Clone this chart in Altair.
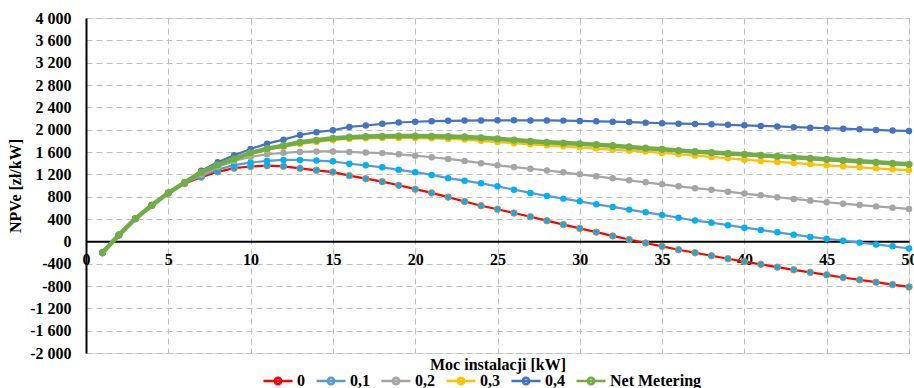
import altair as alt
import pandas as pd

# Installed power [kW]
power_kw = list(range(1, 51))

series_names = ["0", "0,1", "0,2", "0,3", "0,4", "Net Metering"]

# NPVe [zł/kW] for each series
npv_0 = [-205, 115, 405, 645, 865, 1035, 1150, 1245, 1310, 1340,
         1355, 1343, 1307, 1272, 1240, 1177, 1122, 1069, 1004, 935,
         867, 792, 714, 638, 575, 507, 440, 370, 300, 232,
         165, 97, 32, -30, -90, -150, -205, -258, -312, -362,
         -412, -462, -510, -556, -600, -648, -690, -732, -775, -817]
npv_01 = [-205, 115, 405, 645, 865, 1045, 1165, 1285, 1365, 1410,
          1440, 1458, 1458, 1447, 1433, 1390, 1361, 1326, 1281, 1238,
          1189, 1132, 1087, 1039, 985, 925, 867, 813, 765, 716,
          663, 616, 568, 519, 473, 422, 372, 335, 290, 245,
          204, 161, 120, 79, 45, 12, -23, -56, -90, -128]
npv_02 = [-205, 115, 405, 645, 865, 1050, 1190, 1330, 1440, 1510,
          1560, 1585, 1601, 1610, 1610, 1601, 1589, 1580, 1558, 1535,
          1506, 1476, 1440, 1400, 1362, 1330, 1300, 1270, 1236, 1200,
          1164, 1128, 1093, 1057, 1021, 985, 952, 924, 890, 856,
          824, 790, 759, 729, 700, 675, 650, 626, 603, 580]
npv_03 = [-205, 115, 405, 645, 865, 1055, 1225, 1360, 1465, 1560,
          1640, 1695, 1745, 1780, 1815, 1833, 1845, 1850, 1852, 1850,
          1845, 1835, 1822, 1800, 1778, 1757, 1737, 1719, 1701, 1684,
          1662, 1642, 1624, 1607, 1583, 1560, 1535, 1512, 1487, 1463,
          1440, 1422, 1404, 1384, 1362, 1343, 1325, 1307, 1289, 1272]
npv_04 = [-205, 115, 405, 645, 865, 1060, 1266, 1415, 1540, 1655,
          1750, 1821, 1905, 1955, 1990, 2049, 2075, 2105, 2128, 2142,
          2152, 2158, 2163, 2166, 2167, 2167, 2166, 2165, 2162, 2156,
          2150, 2143, 2136, 2126, 2115, 2108, 2102, 2097, 2087, 2078,
          2067, 2058, 2045, 2036, 2025, 2017, 2006, 1995, 1984, 1977]
npv_nm = [-205, 115, 405, 645, 865, 1057, 1236, 1370, 1475, 1583,
          1660, 1714, 1773, 1809, 1845, 1866, 1877, 1882, 1886, 1886,
          1882, 1876, 1869, 1855, 1837, 1815, 1791, 1773, 1760, 1748,
          1732, 1714, 1690, 1668, 1648, 1625, 1606, 1590, 1574, 1558,
          1540, 1522, 1504, 1487, 1469, 1451, 1433, 1415, 1397, 1379]

series_values = [npv_0, npv_01, npv_02, npv_03, npv_04, npv_nm]

line_colors = ["#FF0000", "#5B9BD5", "#A5A5A5", "#FFC000", "#4472C4", "#70AD47"]
marker_fill = ["#00B0F0", "#00B0F0", "#A5A5A5", "#FFC000", "#4472C4", "#70AD47"]
marker_stroke = ["#ED7D31", "#00B0F0", "#A5A5A5", "#FFC000", "#4472C4", "#70AD47"]
line_widths = [2.2, 2.2, 2.2, 2.2, 2.2, 4.5]
marker_sizes = [42, 42, 42, 42, 42, 52]

y_ticks = list(range(-2000, 4001, 400))
x_ticks = list(range(0, 51, 5))

rows = []
for name, vals in zip(series_names, series_values):
    for p, v in zip(power_kw, vals):
        rows.append({"series": name, "power": p, "npv": v})
df = pd.DataFrame(rows)

FONT = "Liberation Serif"
PLOT_W, PLOT_H = 823, 335
Y_MIN, Y_MAX = -2000, 4000
zero_offset = PLOT_H * (0 - Y_MIN) / (Y_MAX - Y_MIN)

# x axis sits on the zero line; its title goes down below the plot
x_enc = alt.X(
    "power:Q",
    scale=alt.Scale(domain=[0, 50], nice=False),
    axis=alt.Axis(
        values=x_ticks, offset=-zero_offset, ticks=False,
        labelFlush=False, labelPadding=10, labelFont=FONT, labelFontSize=16,
        labelFontWeight="bold", labelColor="black",
        domainColor="black", domainWidth=2,
        grid=True, gridColor="#BFBFBF", gridDash=[6, 4], gridWidth=1,
        title="Moc instalacji  [kW]", titleFont=FONT, titleFontSize=16,
        titleFontWeight="bold", titleColor="black",
        titleX=PLOT_W / 2, titleY=zero_offset + 16, titleBaseline="alphabetic",
        titleAlign="center", titleAngle=0,
    ),
)
y_enc = alt.Y(
    "npv:Q",
    scale=alt.Scale(domain=[Y_MIN, Y_MAX], nice=False),
    axis=alt.Axis(
        values=y_ticks, ticks=False, labelPadding=15, labelOverlap=False,
        labelExpr="(datum.value < 0 ? '-' : '') + replace(format(abs(datum.value), ','), ',', ' ')",
        labelFont=FONT, labelFontSize=16, labelFontWeight="bold", labelColor="black",
        domainColor="black", domainWidth=2,
        grid=True, gridColor="#BFBFBF", gridDash=[6, 4], gridWidth=1,
        title="NPVe [zł/kW]", titleFont=FONT, titleFontSize=16,
        titleFontWeight="bold", titleColor="black", titlePadding=6,
    ),
)

legend = alt.Legend(
    orient="none", legendX=176, legendY=347, direction="horizontal", columns=6,
    gridAlign="none", title=None,
    symbolType="M-1,0L1,0M-0.22,0A0.22,0.22,0,1,0,0.22,0A0.22,0.22,0,1,0,-0.22,0Z",
    symbolSize=841, symbolStrokeWidth=2.5,
    labelFont=FONT, labelFontSize=16, labelFontWeight="bold", labelColor="black",
    labelOffset=3, columnPadding=6,
)
color_enc = alt.Color(
    "series:N",
    scale=alt.Scale(domain=series_names, range=line_colors),
    legend=legend,
)

layers = []
for i, name in enumerate(series_names):
    base = alt.Chart(df).transform_filter(alt.datum.series == name)
    line = base.mark_line(strokeWidth=line_widths[i]).encode(
        x=x_enc, y=y_enc, color=color_enc
    )
    pts = base.mark_point(
        shape="circle", filled=True, size=marker_sizes[i], opacity=1,
        fill=marker_fill[i], stroke=marker_stroke[i],
        strokeWidth=1 if i == 0 else 0,
    ).encode(x=x_enc, y=y_enc)
    layers += [line, pts]

chart = alt.layer(*layers).properties(
    width=PLOT_W,
    height=PLOT_H,
    autosize=alt.AutoSizeParams(type="none"),
    padding={"left": 86, "top": 18, "right": 5, "bottom": 35},
).configure_view(strokeWidth=0).configure(background="white")

chart.save("out.html", embed_options={"renderer": "svg", "actions": False})
